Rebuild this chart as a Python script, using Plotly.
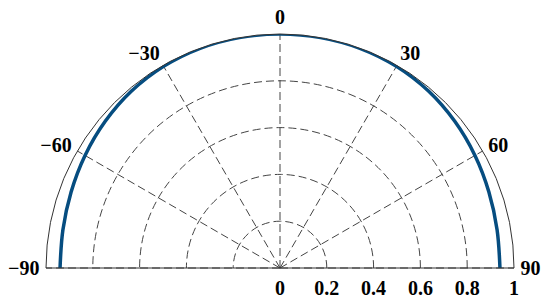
import plotly.graph_objects as go

# pattern (angle in degrees, normalised radius)
angles = [-90, -80, -70, -60, -50, -40, -30, -20, -10, 0,
          10, 20, 30, 40, 50, 60, 70, 80, 90]
radius = [0.94, 0.942, 0.95, 0.962, 0.975, 0.987, 0.995, 0.999, 1.0, 1.0,
          1.0, 0.999, 0.995, 0.987, 0.975, 0.962, 0.95, 0.942, 0.94]

angle_ticks = [-90, -60, -30, 0, 30, 60, 90]
angle_labels = ["\u221290", "\u221260", "\u221230", "0", "30", "60", "90"]
radial_ticks = [0, 0.2, 0.4, 0.6, 0.8, 1]
radial_labels = ["0", "0.2", "0.4", "0.6", "0.8", "1"]

fig = go.Figure()
fig.add_trace(go.Scatterpolar(
    r=radius, theta=angles, mode="lines",
    line=dict(color="#064d80", width=3.5, shape="spline"),
    cliponaxis=False, showlegend=False,
))

font = dict(family="Liberation Serif", size=20, color="black", weight="bold")

# invisible ticks just push the labels away from the frame
fig.update_layout(
    width=550, height=306,
    margin=dict(l=46, r=36, t=34, b=38),
    paper_bgcolor="white",
    polar=dict(
        bgcolor="white",
        sector=[0, 180],
        domain=dict(x=[0, 1], y=[0, 1]),
        angularaxis=dict(
            rotation=90, direction="clockwise",
            tickmode="array", tickvals=angle_ticks, ticktext=angle_labels,
            ticks="outside", ticklen=2, tickcolor="rgba(0,0,0,0)",
            tickfont=font,
            showline=True, linecolor="#333333", linewidth=1,
            showgrid=True, gridcolor="#444444", gridwidth=1, griddash="8px,4px",
        ),
        radialaxis=dict(
            range=[0, 1], angle=0, side="clockwise",
            tickmode="array", tickvals=radial_ticks, ticktext=radial_labels,
            ticks="outside", ticklen=2, tickcolor="rgba(0,0,0,0)",
            tickfont=font, showline=False,
            showgrid=True, gridcolor="#444444", gridwidth=1, griddash="8px,4px",
        ),
    ),
    font=dict(family="Liberation Serif", size=20, color="black"),
)

# page default body margin would push the figure 8px off the window
fig.write_html("out.html", config={"displayModeBar": False},
               post_script="document.body.style.margin = '0';")
